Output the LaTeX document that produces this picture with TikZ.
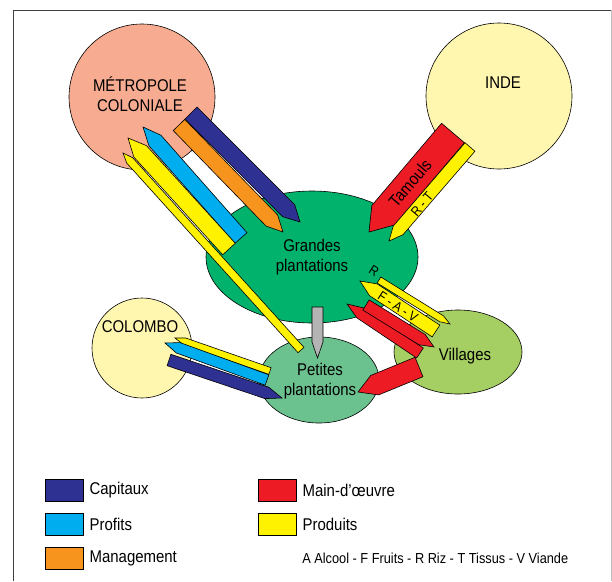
\documentclass[tikz,border=0pt]{standalone}
\usepackage{fontspec}
\setmainfont[FakeStretch=0.88]{Liberation Sans}
\usepackage{tikz}
\usetikzlibrary{shapes.geometric,positioning,calc}

\definecolor{capitaux}{RGB}{46,49,146}
\definecolor{profits}{RGB}{0,174,239}
\definecolor{management}{RGB}{247,148,29}
\definecolor{maindoeuvre}{RGB}{237,28,36}
\definecolor{produits}{RGB}{255,242,0}
\definecolor{metropole}{RGB}{247,172,145}
\definecolor{jaunepale}{RGB}{255,246,176}
\definecolor{grandes}{RGB}{0,178,107}
\definecolor{petites}{RGB}{108,194,142}
\definecolor{villages}{RGB}{166,207,99}
\definecolor{gris}{RGB}{180,180,180}

% colour, tail, tip, half width, tip length
\newcommand{\fleche}[5]{%
  \coordinate (fc) at ($(#3)!#5pt!(#2)$);
  \draw[fill=#1] ($(#2)!#4pt!90:(#3)$) -- ($(fc)!#4pt!90:(#3)$) -- (#3)
    -- ($(fc)!#4pt!-90:(#3)$) -- ($(#2)!#4pt!-90:(#3)$) -- cycle;}

\begin{document}
\begin{tikzpicture}[x=1pt,y=1pt,line width=0.6pt,
  every node/.style={inner sep=0pt,font=\fontsize{17}{20}\selectfont},
  lieu/.style={circle,draw},
  zone/.style={ellipse,draw},
  legende/.style={draw,minimum width=38,minimum height=22},
  etiquette/.style={font=\fontsize{13.5}{15}\selectfont},
  cle/.style={font=\fontsize{14.5}{16}\selectfont}]
\useasboundingbox (0,0) rectangle (612,-581);
\draw[black!75] (13,-581) -- (13,-10) -- (611,-10);
\draw[black!25] (611,-10) -- (611,-581);

% places
\node[zone,fill=grandes,minimum width=212,minimum height=132] (gp) at (312,-257) {};
\node[zone,fill=villages,minimum width=128,minimum height=84] (vil) at (458,-352) {};
\node[zone,fill=petites,minimum width=120,minimum height=86] (pp) at (319,-380) {};
\node[lieu,fill=metropole,minimum size=146] (met) at (142,-97) {};
\node[lieu,fill=jaunepale,minimum size=146] (inde) at (499,-96) {};
\node[lieu,fill=jaunepale,minimum size=100] (col) at (142,-348) {};
\node[align=center] (tmet) at (140,-94) {MÉTROPOLE\\COLONIALE};
\node (tinde) at (503,-83) {INDE};
\node (tcol) at (140,-327) {COLOMBO};
\node[align=center] (tgp) at (312,-257) {Grandes\\plantations};
\node[align=center] (tpp) at (320,-381) {Petites\\plantations};
\node (tvil) at (465,-356) {Villages};

% arrow ends
\coordinate (cap1a) at (191,-113); \coordinate (cap1b) at (300,-222);
\coordinate (man1a) at (179,-125); \coordinate (man1b) at (283,-232);
\coordinate (pro1a) at (241,-238); \coordinate (pro1b) at (143,-127);
\coordinate (pr1a) at (229,-249);  \coordinate (pr1b) at (128,-138);
\coordinate (pr2a) at (301,-350);  \coordinate (pr2b) at (123,-153);
\coordinate (tama) at (453,-133);  \coordinate (tamb) at (369,-232);
\coordinate (rta) at (470,-147);   \coordinate (rtb) at (389,-241);
\coordinate (rza) at (379,-280);   \coordinate (rzb) at (450,-324);
\coordinate (fava) at (436,-331);  \coordinate (favb) at (360,-281);
\coordinate (mo1a) at (366,-305);  \coordinate (mo1b) at (434,-347);
\coordinate (mo2a) at (420,-353);  \coordinate (mo2b) at (347,-304);
\coordinate (mo3a) at (419,-367);  \coordinate (mo3b) at (358,-392);
\coordinate (grisa) at (317.5,-307); \coordinate (grisb) at (317.5,-358);
\coordinate (pr3a) at (270,-371);  \coordinate (pr3b) at (175,-338);
\coordinate (pro2a) at (267,-380); \coordinate (pro2b) at (165,-343);
\coordinate (cap2a) at (169,-360); \coordinate (cap2b) at (282,-398);

% metropole
\fleche{capitaux}{cap1a}{cap1b}{8.5}{16}
\fleche{management}{man1a}{man1b}{8}{16}
\fleche{profits}{pro1a}{pro1b}{8}{18}
\fleche{produits}{pr1a}{pr1b}{8.5}{18}
\fleche{produits}{pr2a}{pr2b}{4}{10}
% inde
\fleche{maindoeuvre}{tama}{tamb}{15}{22}
\fleche{produits}{rta}{rtb}{6.5}{14}
\node[rotate=49.7] (ttam) at (410,-183) {Tamouls};
\node[rotate=49.7,etiquette] (trt) at (422,-204) {R - T};
% villages
\fleche{produits}{rza}{rzb}{3.5}{10}
\fleche{produits}{fava}{favb}{7}{16}
\fleche{maindoeuvre}{mo2a}{mo2b}{6}{16}
\fleche{maindoeuvre}{mo1a}{mo1b}{6}{14}
\fleche{maindoeuvre}{mo3a}{mo3b}{10.5}{18}
\node[rotate=-33,etiquette] (tfav) at (398,-307) {F - A - V};
\node[rotate=-33,etiquette] (trz) at (374,-271) {R};
\fleche{gris}{grisa}{grisb}{5.5}{16}
% colombo
\fleche{produits}{pr3a}{pr3b}{3.5}{10}
\fleche{profits}{pro2a}{pro2b}{5.5}{14}
\fleche{capitaux}{cap2a}{cap2b}{6}{16}

% legend
\node[legende,fill=capitaux] (lcap) at (64,-490) {};
\node[legende,fill=profits] (lpro) at (64,-524) {};
\node[legende,fill=management] (lman) at (64,-558) {};
\node[legende,fill=maindoeuvre] (lmo) at (277,-490) {};
\node[legende,fill=produits] (lprod) at (277,-524) {};
\node[right=6 of lcap] {Capitaux};
\node[right=6 of lpro] {Profits};
\node[right=6 of lman] {Management};
\node[right=6 of lmo] {Main-d'œuvre};
\node[right=6 of lprod] {Produits};
\node[anchor=west,cle] (lcle) at (302,-558) {A Alcool - F Fruits - R Riz - T Tissus - V Viande};
\end{tikzpicture}
\end{document}
